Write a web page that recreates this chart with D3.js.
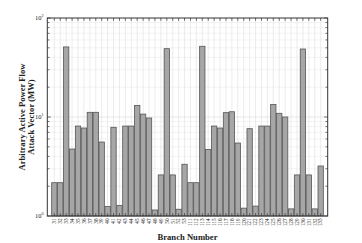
<!DOCTYPE html>
<html><head><meta charset="utf-8">
<script src="https://cdn.jsdelivr.net/npm/d3@7"></script>
<style>html,body{margin:0;padding:0;background:#fff}svg{display:block}</style>
</head><body>
<svg id="c" width="362" height="243"></svg>
<script>
const branches = [31,32,33,34,35,36,37,38,39,40,41,42,43,44,45,46,47,48,49,50,51,52,53,
  111,112,113,114,115,116,117,118,119,120,121,122,123,124,125,126,127,128,129,130,131,132,133];
const values = [2.17,2.17,51,4.75,8.1,7.74,11.15,11.15,5.59,1.25,7.87,1.28,8.1,8.1,13.1,10.7,9.77,1.15,2.6,49,2.6,1.17,3.33,
  2.17,2.17,51.8,4.71,8.1,7.74,11.06,11.3,5.46,1.2,7.62,1.26,8.1,8.1,13.4,10.9,10.0,1.18,2.6,48.6,2.6,1.18,3.2];
const yMajor = [1,10,100];
const yExp = ["0","1","2"];

const svg = d3.select("#c");
const L = 47.3, R = 327.7, T = 18, B = 216;
const x = d3.scaleBand().domain(branches.map(String)).range([L, R]).paddingInner(0.1).paddingOuter(0.74);
const y = d3.scaleLog().domain([1,100]).range([B, T]);
const axisCol = "#333";

// minor values
const minor = [];
for (let d = 1; d < 100; d *= 10) for (let k = 2; k <= 9; k++) minor.push(k*d);

const g = svg.append("g");
// vertical grid
g.selectAll("line.vg").data(branches).enter().append("line")
  .attr("x1", d => x(String(d)) + x.bandwidth()/2).attr("x2", d => x(String(d)) + x.bandwidth()/2)
  .attr("y1", T).attr("y2", B).attr("stroke", "#e4e4e4").attr("stroke-width", 0.7);
// minor horizontal grid
g.selectAll("line.mg").data(minor).enter().append("line")
  .attr("x1", L).attr("x2", R).attr("y1", d => y(d)).attr("y2", d => y(d))
  .attr("stroke", "#d8d8d8").attr("stroke-width", 0.6).attr("stroke-dasharray", "1,1");
// major horizontal grid
g.append("line").attr("x1", L).attr("x2", R).attr("y1", y(10)).attr("y2", y(10))
  .attr("stroke", "#dedede").attr("stroke-width", 0.7);

// bars
svg.append("g").selectAll("rect").data(values).enter().append("rect")
  .attr("x", (d,i) => x(String(branches[i])))
  .attr("width", x.bandwidth())
  .attr("y", d => y(d))
  .attr("height", d => B - y(d))
  .attr("fill", "#a6a6a6").attr("stroke", "#555").attr("stroke-width", 0.8);

// ticks
const tk = svg.append("g").attr("stroke", axisCol).attr("stroke-width", 0.7);
branches.forEach(b => {
  const cx = x(String(b)) + x.bandwidth()/2;
  tk.append("line").attr("x1", cx).attr("x2", cx).attr("y1", T).attr("y2", T+2.8);
  tk.append("line").attr("x1", cx).attr("x2", cx).attr("y1", B).attr("y2", B-2.8);
});
minor.concat(yMajor).forEach(v => {
  const len = yMajor.includes(v) ? 3.5 : 2.2;
  tk.append("line").attr("x1", R).attr("x2", R-len).attr("y1", y(v)).attr("y2", y(v));
  tk.append("line").attr("x1", L).attr("x2", L+len).attr("y1", y(v)).attr("y2", y(v));
});
// box
svg.append("rect").attr("x", L).attr("y", T).attr("width", R-L).attr("height", B-T)
  .attr("fill", "none").attr("stroke", axisCol).attr("stroke-width", 1);

// y tick labels
yMajor.forEach((v,i) => {
  const t = svg.append("text").attr("x", 43.5).attr("y", y(v) + 2)
    .attr("text-anchor", "end").attr("font-family", "Liberation Serif").attr("font-size", 6.5).attr("fill", "#222");
  t.append("tspan").text("10");
  t.append("tspan").attr("font-size", 4.2).attr("dy", -2.6).text(yExp[i]);
});

// x tick labels
svg.append("g").selectAll("text").data(branches).enter().append("text")
  .attr("transform", d => `translate(${x(String(d)) + x.bandwidth()/2 + 1.8},218.5) rotate(-90)`)
  .attr("text-anchor", "end").attr("font-family", "Liberation Serif").attr("font-size", 5.2).attr("fill", "#222")
  .text(d => d);

// axis titles
svg.append("text").attr("x", 187.5).attr("y", 239.5).attr("text-anchor", "middle")
  .attr("font-family", "Liberation Serif").attr("font-weight", "bold").attr("font-size", 8.6).attr("fill", "#222")
  .text("Branch Number");
const yt = svg.append("text").attr("transform", "translate(0,117) rotate(-90)")
  .attr("text-anchor", "middle").attr("font-family", "Liberation Serif").attr("font-weight", "bold")
  .attr("font-size", 8.6).attr("fill", "#222");
yt.append("tspan").attr("x", 0).attr("y", 25).text("Arbitrary Active Power Flow");
yt.append("tspan").attr("x", 0).attr("y", 33.5).text("Attack Vector (MW)");
</script>
</body></html>
